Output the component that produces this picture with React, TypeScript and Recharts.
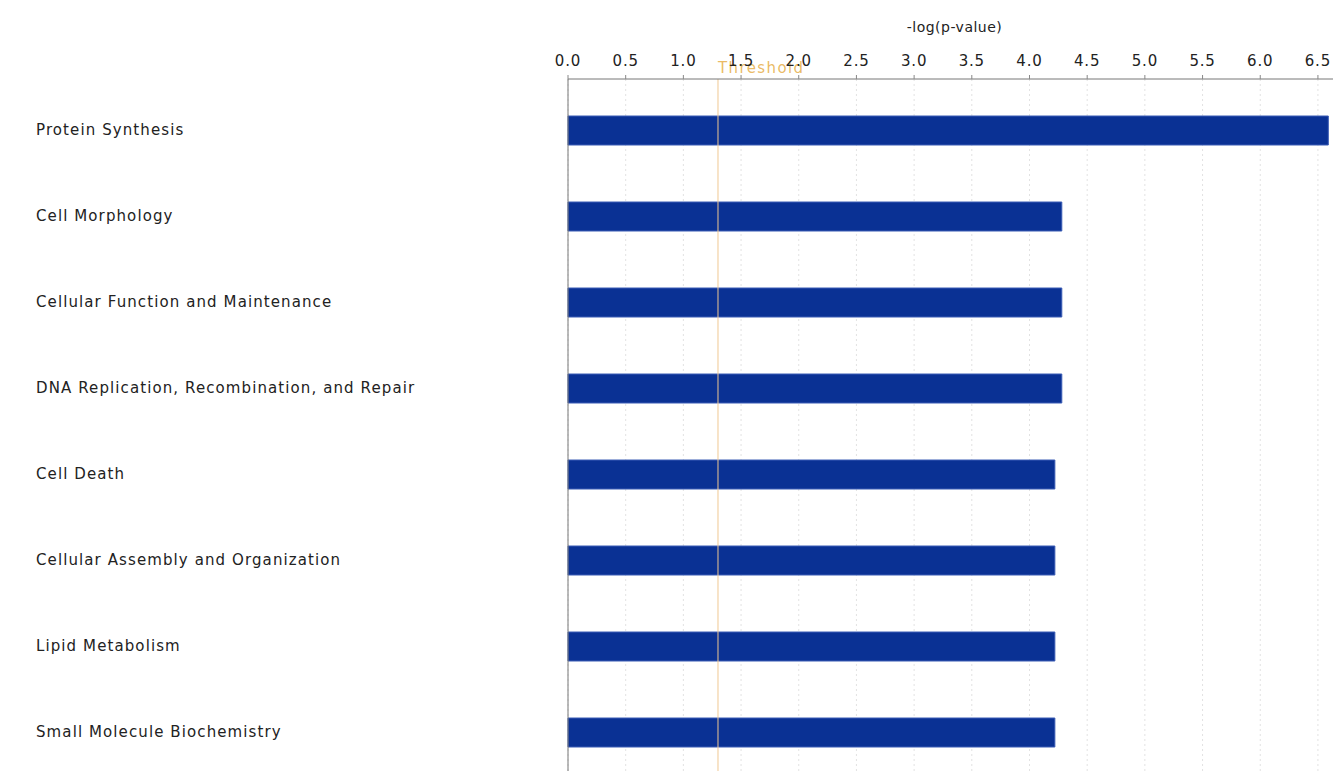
import { Bar, BarChart, CartesianGrid, ReferenceLine, XAxis, YAxis } from "recharts";

// categories top to bottom, values are -log(p-value)
const categories = [
  "Protein Synthesis",
  "Cell Morphology",
  "Cellular Function and Maintenance",
  "DNA Replication, Recombination, and Repair",
  "Cell Death",
  "Cellular Assembly and Organization",
  "Lipid Metabolism",
  "Small Molecule Biochemistry"
];
const scores = [6.59, 4.28, 4.28, 4.28, 4.22, 4.22, 4.22, 4.22];
const xTicks = [0, 0.5, 1, 1.5, 2, 2.5, 3, 3.5, 4, 4.5, 5, 5.5, 6, 6.5];
const threshold = 1.3;

const data = categories.map((name, i) => ({ name, score: scores[i] }));

const FONT = "'DejaVu Sans', Verdana, sans-serif";

function CategoryTick(props: any) {
  const { y, payload } = props;
  return (
    <text x={36} y={y} dy={5} textAnchor="start" fontFamily={FONT} fontSize={15} letterSpacing={1.1} fill="#222">
      {payload.value}
    </text>
  );
}

function AxisTitle(props: any) {
  const vb = props.viewBox || {};
  return (
    <text x={vb.x + vb.width / 2} y={32} textAnchor="middle" fontFamily={FONT} fontSize={14} letterSpacing={0.5} fill="#222">
      -log(p-value)
    </text>
  );
}

function ThresholdLabel(props: any) {
  const vb = props.viewBox || {};
  return (
    <text x={vb.x} y={73} textAnchor="start" fontFamily={FONT} fontSize={15} letterSpacing={1.4} fill="#e5a93a" fillOpacity={0.8}>
      Threshold
    </text>
  );
}

export default function App() {
  return (
    <div style={{ margin: -8, background: "#fff", width: 1341, height: 779, overflow: "hidden" }}>
      <BarChart
        width={1341}
        height={779}
        data={data}
        layout="vertical"
        margin={{ top: 0, right: 0, bottom: 0, left: 0 }}
      >
        <CartesianGrid horizontal={false} stroke="#e2e2e2" strokeDasharray="2 3" />
        <XAxis
          type="number"
          orientation="top"
          domain={[0, 6.7]}
          ticks={xTicks}
          tickFormatter={(v: number) => v.toFixed(1)}
          height={79}
          axisLine={{ stroke: "#777" }}
          tickLine={{ stroke: "#888" }}
          tickSize={4}
          tickMargin={9}
          tick={{ fontFamily: FONT, fontSize: 15, fill: "#222", letterSpacing: 0.8 }}
          label={<AxisTitle />}
        />
        <YAxis
          type="category"
          dataKey="name"
          width={568}
          padding={{ top: 8, bottom: 4 }}
          axisLine={{ stroke: "#777" }}
          tickLine={false}
          tick={<CategoryTick />}
          interval={0}
        />
        <Bar dataKey="score" fill="#0a3194" stroke="#3a5cb5" strokeWidth={1} barSize={29} isAnimationActive={false} />
        <ReferenceLine x={threshold} stroke="#f0c893" strokeWidth={1} label={<ThresholdLabel />} />
      </BarChart>
    </div>
  );
}
